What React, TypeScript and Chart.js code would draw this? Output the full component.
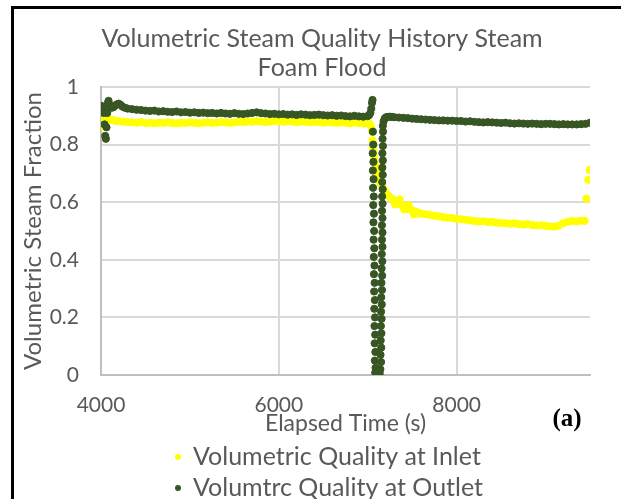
import React, { useEffect, useRef } from 'react';
import { Chart, registerables } from 'chart.js';

Chart.register(...registerables);

const chartTitle = ['Volumetric Steam Quality History Steam', 'Foam Flood'];
const xAxisTitle = 'Elapsed Time (s)';
const yAxisTitle = 'Volumetric Steam Fraction';
const panelLabel = '(a)';
const seriesNames = ['Volumetric Quality at Inlet', 'Volumtrc Quality at Outlet'];
const xTickValues = [4000, 6000, 8000];

const inletTime = [
  4000, 4005, 4012, 4020, 4030, 4045, 4060, 4080, 4100, 4125, 4150, 4175, 4200, 4250, 4300,
  4350, 4400, 4450, 4500, 4550, 4600, 4650, 4700, 4750, 4800, 4850, 4900, 4950, 5000,
  5050, 5100, 5150, 5200, 5250, 5300, 5350, 5400, 5450, 5500, 5550, 5600, 5650, 5700,
  5750, 5800, 5850, 5900, 5950, 6000, 6050, 6100, 6150, 6200, 6250, 6300, 6350, 6400,
  6450, 6500, 6550, 6600, 6650, 6700, 6750, 6800, 6850, 6900, 6950, 7000,
  7015, 7030, 7040, 7048, 7055, 7060, 7064, 7068, 7074, 7080, 7088, 7096, 7105, 7115,
  7125, 7135, 7145, 7155, 7165, 7178, 7190, 7205, 7220, 7240, 7260, 7280, 7300, 7310,
  7325, 7350, 7360, 7375, 7400, 7410, 7425, 7450, 7460, 7475, 7500, 7520, 7525, 7550,
  7575, 7600, 7650, 7700, 7750, 7800, 7850, 7900, 7950, 8000, 8050, 8100, 8150, 8200,
  8250, 8300, 8350, 8400, 8450, 8500, 8550, 8600, 8650, 8700, 8750, 8800, 8850, 8900,
  8950, 9000, 9050, 9100, 9150, 9200, 9250, 9300, 9350, 9400, 9440, 9460, 9480, 9495,
];
const inletValue = [
  0.862, 0.885, 0.905, 0.892, 0.878, 0.88, 0.886, 0.889, 0.887, 0.885, 0.884, 0.882, 0.881, 0.88, 0.878,
  0.877, 0.876, 0.878, 0.875, 0.876, 0.874, 0.876, 0.875, 0.877, 0.875, 0.874, 0.876, 0.875, 0.877,
  0.876, 0.874, 0.876, 0.877, 0.875, 0.876, 0.878, 0.877, 0.875, 0.877, 0.879, 0.878, 0.88, 0.879,
  0.881, 0.88, 0.878, 0.88, 0.882, 0.881, 0.879, 0.881, 0.88, 0.878, 0.88, 0.879, 0.877, 0.879,
  0.878, 0.876, 0.878, 0.877, 0.875, 0.877, 0.876, 0.874, 0.876, 0.875, 0.873, 0.875,
  0.873, 0.868, 0.86, 0.845, 0.815, 0.79, 0.775, 0.76, 0.745, 0.735, 0.722, 0.71, 0.7, 0.69,
  0.68, 0.672, 0.665, 0.66, 0.652, 0.645, 0.638, 0.632, 0.626, 0.62, 0.614, 0.61, 0.604, 0.592,
  0.6, 0.596, 0.61, 0.592, 0.585, 0.575, 0.582, 0.578, 0.59, 0.575, 0.571, 0.558, 0.568, 0.566,
  0.562, 0.56, 0.558, 0.556, 0.553, 0.551, 0.548, 0.546, 0.545, 0.542, 0.541, 0.539, 0.537, 0.535,
  0.533, 0.534, 0.531, 0.532, 0.529, 0.528, 0.527, 0.525, 0.527, 0.524, 0.522, 0.524, 0.521, 0.519,
  0.52, 0.518, 0.516, 0.515, 0.519, 0.527, 0.532, 0.535, 0.533, 0.536, 0.535, 0.612, 0.678, 0.712,
];

const outletTime = [
  4000, 4010, 4020, 4030, 4040, 4048, 4055, 4062, 4070, 4078, 4085, 4092, 4100, 4120, 4140,
  4160, 4180, 4200, 4220, 4240, 4270, 4300,
  4350, 4400, 4450, 4500, 4550, 4600, 4650, 4700, 4750, 4800, 4850, 4900, 4950, 5000,
  5050, 5100, 5150, 5200, 5250, 5300, 5350, 5400, 5450, 5500, 5550, 5600, 5650, 5700,
  5750, 5800, 5850, 5900, 5950, 6000, 6050, 6100, 6150, 6200, 6250, 6300, 6350, 6400,
  6450, 6500, 6550, 6600, 6650, 6700, 6750, 6800, 6850, 6900, 6950, 7000,
  7015, 7030, 7040, 7048, 7054,
  7058, 7062, 7056, 7064, 7058, 7066, 7060, 7068, 7062, 7070, 7064, 7072, 7066, 7074,
  7068, 7076, 7070, 7078, 7072, 7080, 7074, 7082, 7076, 7084, 7078, 7086, 7080, 7088, 7084,
  7095, 7105, 7115, 7125, 7135,
  7142, 7150, 7144, 7152, 7146, 7154, 7148, 7156, 7150, 7158, 7152, 7160, 7154, 7162,
  7156, 7164, 7158, 7166, 7160, 7166, 7160, 7166, 7161, 7167, 7162, 7168, 7163, 7169,
  7164, 7170, 7165, 7171, 7167, 7172, 7170, 7178, 7190, 7205, 7225, 7250, 7275,
  7300, 7350, 7400, 7450, 7500, 7550, 7600, 7650, 7700, 7750, 7800, 7850, 7900, 7950,
  8000, 8050, 8100, 8150, 8200, 8250, 8300, 8350, 8400, 8450, 8500, 8550, 8600, 8650,
  8700, 8750, 8800, 8850, 8900, 8950, 9000, 9050, 9100, 9150, 9200, 9250, 9300, 9350,
  9400, 9450, 9500,
];
const outletValue = [
  0.935, 0.93, 0.925, 0.91, 0.87, 0.83, 0.82, 0.86, 0.91, 0.945, 0.952, 0.94, 0.932, 0.928, 0.93,
  0.936, 0.94, 0.942, 0.938, 0.932, 0.928, 0.925,
  0.923, 0.921, 0.92, 0.918, 0.917, 0.918, 0.915, 0.916, 0.914, 0.913, 0.915, 0.912, 0.913, 0.911,
  0.912, 0.91, 0.911, 0.909, 0.91, 0.908, 0.91, 0.908, 0.907, 0.909, 0.907, 0.906, 0.908, 0.91,
  0.912, 0.909, 0.908, 0.906, 0.907, 0.905, 0.906, 0.904, 0.905, 0.903, 0.905, 0.904, 0.902, 0.903,
  0.904, 0.902, 0.901, 0.902, 0.9, 0.901, 0.899, 0.898, 0.9, 0.898, 0.897, 0.899,
  0.902, 0.91, 0.925, 0.945, 0.955,
  0.845, 0.8, 0.77, 0.74, 0.71, 0.68, 0.65, 0.62, 0.59, 0.56, 0.53, 0.5, 0.47, 0.44,
  0.41, 0.38, 0.35, 0.32, 0.29, 0.26, 0.23, 0.2, 0.17, 0.14, 0.11, 0.08, 0.05, 0.025, 0.008,
  0.004, 0.006, 0.004, 0.006, 0.005,
  0.02, 0.045, 0.07, 0.095, 0.12, 0.145, 0.17, 0.195, 0.22, 0.245, 0.27, 0.295, 0.32, 0.345,
  0.37, 0.395, 0.42, 0.445, 0.47, 0.495, 0.52, 0.545, 0.57, 0.595, 0.62, 0.645, 0.67, 0.695,
  0.72, 0.745, 0.77, 0.795, 0.82, 0.845, 0.865, 0.88, 0.89, 0.895, 0.896, 0.897, 0.896,
  0.895, 0.894, 0.893, 0.892, 0.89, 0.889, 0.888, 0.887, 0.886, 0.885, 0.884, 0.884, 0.883, 0.883,
  0.882, 0.882, 0.88, 0.881, 0.879, 0.878, 0.877, 0.878, 0.877, 0.876, 0.875, 0.876, 0.874, 0.873,
  0.874, 0.873, 0.872, 0.873, 0.872, 0.871, 0.872, 0.872, 0.871, 0.87, 0.871, 0.87, 0.87, 0.87,
  0.871, 0.872, 0.876,
];

const inletColor = '#FFFF00';
const outletColor = '#375623';
const textColor = '#595959';
const FONT = 'Lato';

const pairs = (xs: number[], ys: number[]) => xs.map((x, i) => ({ x, y: ys[i] }));

const decorPlugin = {
  id: 'decor',
  beforeDraw(chart: any) {
    const { ctx, width, height } = chart;
    ctx.save();
    ctx.fillStyle = '#ffffff';
    ctx.fillRect(0, 0, width, height);
    ctx.fillStyle = '#000000';
    ctx.fillRect(11, 6, 3, height - 6);
    ctx.fillRect(11, 6, width - 11, 3);
    ctx.restore();
  },
  afterDraw(chart: any) {
    const { ctx } = chart;
    ctx.save();
    chart.data.datasets.forEach((ds: any, i: number) => {
      const y = 457 + i * 31;
      ctx.beginPath();
      ctx.fillStyle = ds.backgroundColor;
      ctx.arc(178, y, 3, 0, Math.PI * 2);
      ctx.fill();
      ctx.fillStyle = textColor;
      ctx.font = `25px ${FONT}`;
      ctx.textBaseline = 'middle';
      ctx.textAlign = 'left';
      ctx.fillText(ds.label, 193, y);
    });
    ctx.fillStyle = '#000';
    ctx.font = 'bold 25px "Liberation Serif"';
    ctx.textAlign = 'center';
    ctx.textBaseline = 'middle';
    ctx.fillText(panelLabel, 567, 420);
    ctx.restore();
  },
};

export default function App() {
  const ref = useRef<HTMLCanvasElement>(null);
  useEffect(() => {
    const chart = new Chart(ref.current as HTMLCanvasElement, {
      type: 'scatter',
      data: {
        datasets: [
          {
            label: seriesNames[0],
            data: pairs(inletTime, inletValue),
            backgroundColor: inletColor,
            borderColor: inletColor,
            pointRadius: 3.6,
            pointBorderWidth: 1,
            order: 1,
          },
          {
            label: seriesNames[1],
            data: pairs(outletTime, outletValue),
            backgroundColor: outletColor,
            borderColor: outletColor,
            pointRadius: 3.6,
            pointBorderWidth: 1,
            order: 0,
          },
        ],
      },
      options: {
        responsive: false,
        animation: false,
        layout: { padding: { left: 23, right: 0, top: 0, bottom: 64 } },
        plugins: {
          legend: { display: false },
          tooltip: { enabled: false },
          title: {
            display: true,
            text: chartTitle,
            color: textColor,
            font: { family: FONT, size: 25, weight: 'normal', lineHeight: 1.16 },
            padding: { top: 24, bottom: 5 },
          },
        },
        scales: {
          x: {
            type: 'linear',
            min: 4000,
            max: 9500,
            afterBuildTicks: (axis: any) => {
              axis.ticks = xTickValues.map((v) => ({ value: v }));
            },
            afterFit: (s: any) => {
              s.height = 60;
            },
            ticks: {
              color: textColor,
              font: { family: FONT, size: 21 },
              padding: 18,
              maxRotation: 0,
              callback: (v: any) => String(v),
            },
            grid: { color: '#d9d9d9', lineWidth: 2, drawTicks: false },
            border: { color: '#bfbfbf', width: 2 },
            title: {
              display: true,
              text: xAxisTitle,
              color: textColor,
              font: { family: FONT, size: 23, lineHeight: 1.2 },
              padding: { top: 0, bottom: -2 },
            },
          },
          y: {
            min: 0,
            max: 1,
            afterFit: (s: any) => {
              s.width = 78;
            },
            ticks: {
              stepSize: 0.2,
              color: textColor,
              font: { family: FONT, size: 21 },
              padding: 22,
              callback: (v: any) => String(Number(Number(v).toFixed(1))),
            },
            grid: { color: '#d9d9d9', lineWidth: 2, drawTicks: false },
            border: { color: '#bfbfbf', width: 2 },
            title: {
              display: true,
              text: yAxisTitle,
              color: textColor,
              font: { family: FONT, size: 24, lineHeight: 1.2 },
              padding: { top: -4, bottom: 0 },
            },
          },
          yRight: {
            position: 'right',
            display: true,
            afterFit: (s: any) => {
              s.width = 31;
            },
            ticks: { display: false },
            grid: { display: false, drawOnChartArea: false, drawTicks: false },
            border: { display: false },
          },
        },
      },
      plugins: [decorPlugin],
    } as any);
    return () => chart.destroy();
  }, []);
  return (
    <div style={{ position: 'fixed', left: 0, top: 0, width: 621, height: 499, background: '#fff' }}>
      <canvas ref={ref} width={621} height={499} style={{ display: 'block', width: 621, height: 499 }} />
    </div>
  );
}
